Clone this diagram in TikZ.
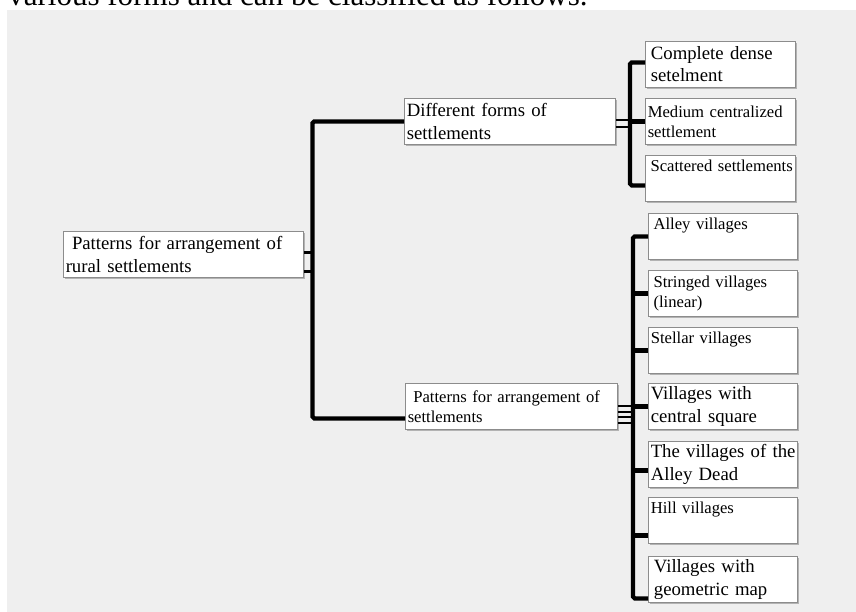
\documentclass[tikz,border=0pt]{standalone}
\usepackage{fontspec}
\setmainfont{Liberation Serif}
\usetikzlibrary{calc,shadows}

\definecolor{paper}{HTML}{EFEFEF}
\definecolor{frame}{HTML}{8C8C8C}

\tikzset{
	box/.style={draw=frame, line width=0.7pt, fill=white, anchor=north west, align=left,
		inner xsep=2pt, inner ysep=0pt, minimum height=1.38cm,
		drop shadow={shadow xshift=1pt, shadow yshift=-1.2pt, fill=black!45, opacity=0.6}},
	big/.style={font=\fontsize{16}{19}\selectfont},
	small/.style={font=\fontsize{14.2}{17}\selectfont},
	bus/.style={line width=3.6pt, rounded corners=1.5pt},
	stub/.style={line width=2pt},
}

\begin{document}
\begin{tikzpicture}[x=0.03cm, y=-0.03cm]
		%%%%% START %%%%%
		
		\clip (0, 0) rectangle (856, 612);
		\fill[white] (0, 0) rectangle (856, 612);
		\fill[paper] (7, 10) rectangle (856, 612);
		\node[anchor=base west, inner sep=0pt, font=\fontsize{26.5}{30}\selectfont] (intro) at (8, 5) {various forms and can be classified as follows.};
		
		% first level
		\node[box, big, text width=7.06cm] (root) at (63, 231) {\ Patterns for arrangement of\\rural settlements};
		
		% second level
		\node[box, big, text width=6.19cm] (diff) at (404, 98) {Different forms of\\settlements};
		\node[box, small, text width=6.22cm] (pat) at (405, 383) {\ Patterns for arrangement of\\settlements};
		
		% forms
		\node[box, big, text width=4.36cm] (cds) at (645, 41) {\,Complete dense\\\,setelment};
		\node[box, small, text width=4.36cm] (mcs) at (645, 98) {Medium centralized\\settlement};
		\node[box, small, text width=4.36cm] (sct) at (645, 155) {\,Scattered settlements\\\strut};
		
		% patterns
		\node[box, small, text width=4.33cm] (alley) at (648, 213) {\,Alley villages\\\strut};
		\node[box, small, text width=4.33cm] (string) at (648, 270) {\,Stringed villages\\\,(linear)};
		\node[box, small, text width=4.33cm] (stellar) at (648, 327) {Stellar villages\\\strut};
		\node[box, big, text width=4.33cm] (central) at (648, 383) {Villages with\\central square};
		\node[box, big, text width=4.33cm] (dead) at (648, 441) {\mbox{The villages of the}\\Alley Dead};
		\node[box, small, text width=4.33cm] (hill) at (648, 497) {Hill villages\\\strut};
		\node[box, big, text width=4.33cm] (geo) at (648, 556) {\,Villages with\\\,geometric map};
		
		% lines
		\coordinate (trunk) at (312.5, 0);
		\coordinate (bus a) at (630, 0);
		\coordinate (bus b) at (633, 0);
		
		\foreach \d in {-2, 17}
			\draw[stub] ($(root.east)+(0, \d)$) coordinate (s) -- (s -| trunk);
		\coordinate (pin) at ($(pat.west)+(0, 12)$);
		\draw[bus] (diff.west) -| (pin -| trunk) -- (pin);
		
		\foreach \d in {-1, 5.5}
			\draw[stub, line width=1.8pt] ($(diff.east)+(0, \d)$) coordinate (s) -- (s -| bus a);
		\coordinate (sc) at ($(sct.west)+(0, 7)$);
		\draw[bus] ($(cds.west)+(0, -2)$) -| (sc -| bus a) -- (sc);
		\draw[bus] (mcs.west -| bus a) -- (mcs.west);
		
		\foreach \d in {0, 6, 11, 17}
			\draw[stub, line width=1.8pt] ($(pat.east)+(0, \d)$) coordinate (s) -- (s -| bus b);
		\coordinate (gm) at ($(geo.west)+(0, 19)$);
		\draw[bus] (alley.west) -| (gm -| bus b) -- (gm);
		\foreach \n/\d in {string/0, stellar/0, central/0, dead/6, hill/15}
			\draw[bus] ($(\n.west)+(0, \d)$) coordinate (s) -- (s -| bus b);
		
		%%%%% END %%%%%
	\end{tikzpicture}
\end{document}
